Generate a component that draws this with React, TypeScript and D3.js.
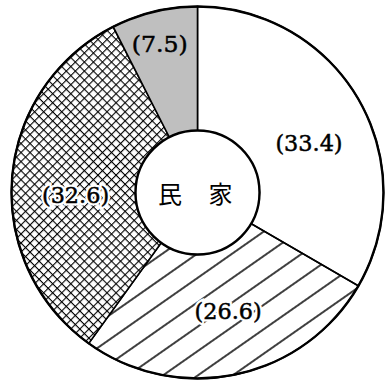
import React from 'react';
import { pie, arc } from 'd3';

const width = 385;
const height = 390;
const cx = 197.5;
const cy = 192.5;
const outerR = 186;
const innerR = 62;

// share of each slice, clockwise from 12 o'clock
const values = [33.4, 26.6, 32.6, 7.5];
const labels = ['(33.4)', '(26.6)', '(32.6)', '(7.5)'];
const fills = ['#fff', 'url(#hatch)', 'url(#cross)', 'url(#dots)'];
const halos = [false, true, true, false];
const centerLabel = '民 家';

// label placement tweaks (degrees) so they sit where the print has them
const labelShift = [6, -2.5, -5.4, -0.8];

const pieGen = pie<number>().sort(null).value(d => d);
const sliceArc = arc<any>().innerRadius(innerR).outerRadius(outerR);

const labelPos = (d: any, i: number) => {
    // small slice label sits further out
    const r = d.endAngle - d.startAngle < 0.6 ? 153 : 122;
    const s = (labelShift[i] * Math.PI) / 180;
    return arc<any>().innerRadius(r).outerRadius(r).centroid({ startAngle: d.startAngle + s, endAngle: d.endAngle + s });
};

const App = () => {
    const slices = pieGen(values);
    return (
        <svg width={width} height={height} style={{ position: 'absolute', left: 0, top: 0, background: '#fff' }}>
            <defs>
                <pattern id="hatch" width={20} height={20} patternUnits="userSpaceOnUse" patternTransform="rotate(-35)">
                    <line x1={0} y1={10} x2={20} y2={10} stroke="#000" strokeWidth={1.5} />
                </pattern>
                <pattern id="cross" width={6.4} height={6.4} patternUnits="userSpaceOnUse" patternTransform="rotate(45)">
                    <rect width={6.4} height={6.4} fill="#fff" />
                    <line x1={0} y1={0.55} x2={6.4} y2={0.55} stroke="#000" strokeWidth={1.1} />
                    <line x1={0.55} y1={0} x2={0.55} y2={6.4} stroke="#000" strokeWidth={1.1} />
                </pattern>
                <pattern id="dots" width={2} height={2} patternUnits="userSpaceOnUse">
                    <rect width={2} height={2} fill="#fff" />
                    <rect x={0} y={0} width={1} height={1} fill="#555" />
                    <rect x={1} y={1} width={1} height={1} fill="#aaa" />
                </pattern>
            </defs>
            <g transform={`translate(${cx}, ${cy})`}>
                {slices.map((d, i) => (
                    <path key={i} d={sliceArc(d) as string} fill={fills[i]} stroke="#000" strokeWidth={1.6} />
                ))}
                <circle r={outerR} fill="none" stroke="#000" strokeWidth={2.4} />
                <circle r={innerR} fill="#fff" stroke="#000" strokeWidth={2.4} />
                {slices.map((d, i) => {
                    const [x, y] = labelPos(d, i);
                    const common = {
                        x,
                        y,
                        textAnchor: 'middle' as const,
                        dominantBaseline: 'central' as const,
                        fontFamily: "'DejaVu Serif', serif",
                        fontSize: 23,
                        textLength: labels[i].length * 11.2,
                        lengthAdjust: 'spacingAndGlyphs' as const,
                    };
                    return (
                        <g key={i}>
                            {halos[i] && (
                                <text {...common} fill="#fff" stroke="#fff" strokeWidth={5}>
                                    {labels[i]}
                                </text>
                            )}
                            <text {...common} fill="#000" stroke="#000" strokeWidth={0.5}>
                                {labels[i]}
                            </text>
                        </g>
                    );
                })}
                <text
                    x={-39.5}
                    y={0}
                    dominantBaseline="central"
                    fontFamily="'Noto Sans CJK JP', sans-serif"
                    fontSize={24}
                    letterSpacing={10.5}
                    fill="#000"
                    xmlSpace="preserve"
                >
                    {centerLabel}
                </text>
            </g>
        </svg>
    );
};

export default App;
